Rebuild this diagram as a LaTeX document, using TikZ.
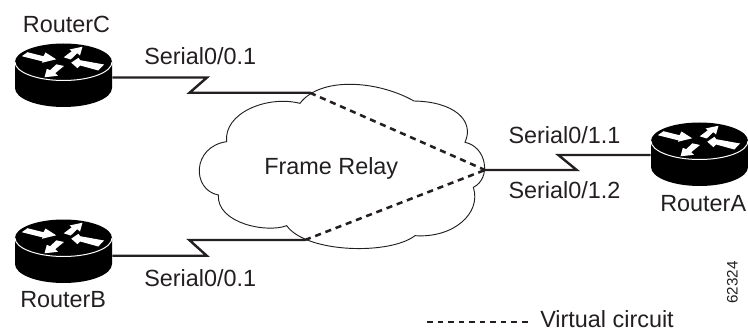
\documentclass[tikz,border=0pt]{standalone}
\usepackage{fontspec}
\setmainfont{Liberation Sans}
\definecolor{ink}{HTML}{231F20}
\newcommand{\routerat}[3]{%
  \begin{scope}[shift={(#2,#3)}]
    \fill[black] (-48.5,0) .. controls (-48.5,-10.2) and (-26.8,-18.5) .. (0,-18.5)
      .. controls (26.8,-18.5) and (48.5,-10.2) .. (48.5,0) -- (48.5,26)
      .. controls (48.5,36.5) and (26.8,45) .. (0,45)
      .. controls (-26.8,45) and (-48.5,36.5) .. (-48.5,26) -- cycle;
    \draw[routerrim] (-48.5,0) .. controls (-48.5,10.2) and (-26.8,18.5) .. (0,18.5)
      .. controls (26.8,18.5) and (48.5,10.2) .. (48.5,0);
    \fill[white] (-41.7,-5.8) -- (-36,-9.8) -- (-20,-5.8) -- (-18,-9.5) -- (-7.3,-2.7) -- (-21.7,0.8) -- (-20.7,-0.5) -- cycle;
    \fill[white] (0.2,-4.7) -- (8.3,-10.8) -- (6,-12.5) -- (19,-15.3) -- (16.5,-6.5) -- (13.8,-8.8) -- (7.2,-2.5) -- cycle;
    \fill[white] (40.5,2.5) -- (16.7,-1.8) -- (15,-4.2) -- (7.7,0.7) -- (14,6.2) -- (16.7,3.5) -- (34.8,8.5) -- cycle;
    \fill[white] (-7.2,2.3) -- (-13.3,8.2) -- (-16.7,6.8) -- (-19,15.3) -- (-5.5,13.8) -- (-8.3,11.2) -- (0.5,4) -- cycle;
    \node[routerbox] (#1) at (0,13.2) {};
  \end{scope}}
\tikzset{
  lbl/.style={inner sep=0pt,anchor=base west,text=ink,font=\fontsize{17.55}{20}\selectfont},
  tag/.style={inner sep=0pt,anchor=base west,text=ink,rotate=90,font=\fontsize{11.4}{13}\selectfont},
  routerrim/.style={white,line width=0.75pt},
  routerbox/.style={inner sep=0pt,minimum width=72.75pt,minimum height=47.6pt},
  serial/.style={line width=1.8pt,draw=ink,miter limit=10},
  vc/.style={line width=1.9pt,draw=ink,dash pattern=on 4.6pt off 3.6pt},
  legendvc/.style={line width=1.3pt,draw=ink,dash pattern=on 4.3pt off 3.6pt},
  cloudline/.style={line width=0.7pt,draw=ink}
}
\begin{document}
\begin{tikzpicture}[x=0.75pt,y=-0.75pt]
\useasboundingbox (0,0) rectangle (748,331);
% cloud
\begin{scope}[shift={(190,90)},x=0.25pt,y=-0.25pt]
\draw[cloudline] (110,155) .. controls (100,70) and (230,15) .. (330,40)
  .. controls (390,-40) and (560,-30) .. (672,33)
  .. controls (790,35) and (855,90) .. (825,157)
  .. controls (890,170) and (905,265) .. (850,292)
  .. controls (875,370) and (790,445) .. (675,437)
  .. controls (600,495) and (350,490) .. (290,407)
  .. controls (230,430) and (80,400) .. (85,315)
  .. controls (5,300) and (5,170) .. (110,155) -- cycle;
\end{scope}
% routers
\routerat{routerC}{63.5}{62}
\routerat{routerB}{63.5}{238}
\routerat{routerA}{699.5}{141}
% connector waypoints
\coordinate (c1) at (207,77.5);
\coordinate (c2) at (189.5,92.8);
\coordinate (c3) at (310,92.8);
\coordinate (b1) at (206.7,255.7);
\coordinate (b2) at (189.3,240);
\coordinate (b3) at (305,240);
\coordinate (a0) at (485,170);
\coordinate (a1) at (576.7,170);
\coordinate (a2) at (558.3,155);
\coordinate (l1) at (427,321.7);
\coordinate (l2) at (530,321.7);
% serial links
\draw[serial] (routerC.east |- c1) -- (c1) -- (c2) -- (c3);
\draw[serial] (routerB.east |- b1) -- (b1) -- (b2) -- (b3);
\draw[serial] (a0) -- (a1) -- (a2) -- (routerA.west |- a2);
% virtual circuits
\draw[vc] (c3) -- (a0);
\draw[vc] (b3) -- (a0);
\draw[legendvc] (l1) -- (l2);
% labels
\node[lbl] (tC) at (22.7,32.3) {RouterC};
\node[lbl] (tB) at (20,307.3) {RouterB};
\node[lbl] (tA) at (660,211.7) {RouterA};
\node[lbl] (s1) at (144,65) {Serial0/0.1};
\node[lbl] (s2) at (144,286.7) {Serial0/0.1};
\node[lbl] (s3) at (508.3,143.3) {Serial0/1.1};
\node[lbl] (s4) at (508.3,199) {Serial0/1.2};
\node[lbl] (fr) at (264,174.3) {Frame Relay};
\node[lbl] (vt) at (540,327.6) {Virtual circuit};
\node[tag] (id) at (737.7,304) {62324};
\end{tikzpicture}
\end{document}
